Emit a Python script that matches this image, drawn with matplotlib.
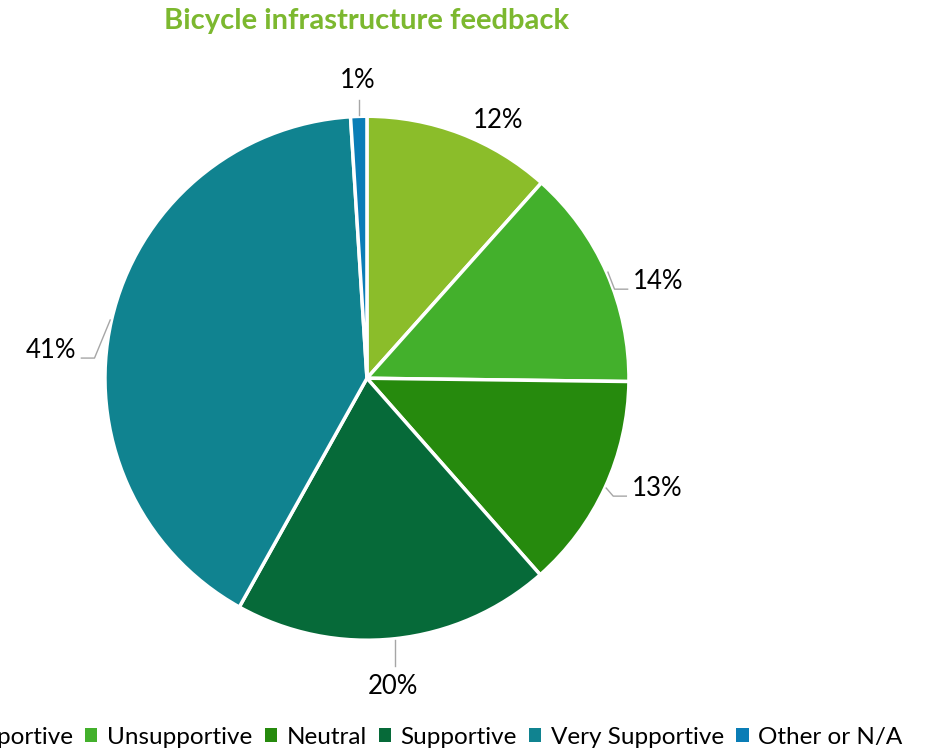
import numpy as np
import matplotlib
matplotlib.use("Agg")
import matplotlib.pyplot as plt
from matplotlib.patches import Patch

plt.rcParams["font.family"] = ["Lato", "DejaVu Sans"]

# ── Data ─────────────────────────────────────────────────────────────
categories = ["Very Unsupportive", "Unsupportive", "Neutral", "Supportive",
              "Very Supportive", "Other or N/A"]
shares = [11.6, 13.6, 13.3, 19.6, 40.9, 1.0]
labels = ["12%", "14%", "13%", "20%", "41%", "1%"]
colors = ["#8BBD2A", "#43B02C", "#268A0D", "#066A39", "#108390", "#0A7DB6"]

# label anchors in pie-radius units, horizontal alignment, leader line?
label_pos = [(0.50, 0.985), (1.015, 0.37), (1.01, -0.42),
             (0.10, -1.175), (-1.11, 0.107), (-0.034, 1.137)]
label_ha = ["center", "left", "left", "center", "right", "center"]
leader = [False, True, True, True, True, True]

LINE = "#A6A6A6"

fig = plt.figure(figsize=(9.29, 7.49), dpi=100)
ax = fig.add_axes([0.113, 0.145, 0.564, 0.70])

wedges, _ = ax.pie(shares, colors=colors, startangle=90, counterclock=False,
                   radius=1.0, wedgeprops=dict(edgecolor="white", linewidth=2.5))
ax.set_xlim(-1, 1)
ax.set_ylim(-1, 1)
ax.set_aspect("equal")
ax.axis("off")

for w, lab, (tx, ty), ha, ld in zip(wedges, labels, label_pos, label_ha, leader):
    ax.text(tx, ty, lab, ha=ha, va="center", fontsize=18.5, clip_on=False)
    if not ld:
        continue
    mid = np.deg2rad((w.theta1 + w.theta2) / 2)
    ex, ey = 1.005 * np.cos(mid), 1.005 * np.sin(mid)
    if ha == "center":
        y1 = ty - 0.075 * np.sign(ty)
        ax.plot([ex, ex], [ey, y1], color=LINE, lw=1, clip_on=False)
    else:
        s = 1 if ha == "left" else -1
        hy = ty - 0.03
        ax.plot([ex, tx - 0.07 * s, tx - 0.02 * s], [ey, hy, hy],
                color=LINE, lw=1, clip_on=False)

fig.text(0.395, 0.972, "Bicycle infrastructure feedback", ha="center", va="center",
         fontsize=21, fontweight="bold", color="#7CB82F")

# legend is wider than the figure in the original, so its left end is cropped
handles = [Patch(facecolor=c, edgecolor="none") for c in colors]
fig.legend(handles, categories, loc="center right", bbox_to_anchor=(0.995, 0.016),
           ncol=6, frameon=False, fontsize=17.5, handlelength=0.5, handleheight=0.5,
           handletextpad=0.4, columnspacing=0.5)

fig.savefig("out.png", dpi=100)
